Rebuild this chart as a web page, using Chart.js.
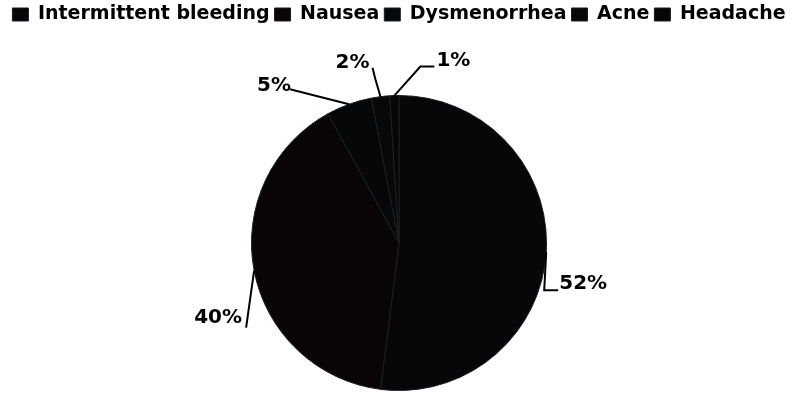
<!DOCTYPE html>
<html>
<head>
<meta charset="utf-8">
<script src="https://cdn.jsdelivr.net/npm/chart.js@4/dist/chart.umd.min.js"></script>
<style>
  html, body { margin: 0; padding: 0; background: #fff; }
  #wrap { width: 792px; height: 396px; }
</style>
</head>
<body>
<div id="wrap"><canvas id="pieChart" width="792" height="396"></canvas></div>
<script>
const categories = ['Intermittent bleeding', 'Nausea', 'Dysmenorrhea', 'Acne', 'Headache'];
const percents = [52, 40, 5, 2, 1];
const sliceColors = ['#07070a', '#090506', '#060708', '#080808', '#060606'];

// leader line shape and label spot, relative to the point on the pie edge
const labelOffsets = [
    { elbow: [-2, 38], tail: 14, text: [37, 32] },
    { elbow: [-8, 57], tail: 0, text: [-36, 47] },
    { elbow: [-59, -15], tail: 0, text: [-75, -18] },
    { elbow: [-5, -17], tail: -3, text: [-28, -34], rise: -12 },
    { elbow: [26, -29], tail: 14, text: [59, -35] }
];

const leaderLabels = {
    id: 'leaderLabels',
    afterDatasetsDraw(chart) {
        const ctx = chart.ctx;
        const meta = chart.getDatasetMeta(0);
        ctx.save();
        ctx.strokeStyle = '#000';
        ctx.lineWidth = 2;
        ctx.fillStyle = '#000';
        ctx.font = 'bold 20px "DejaVu Sans", sans-serif';
        ctx.textBaseline = 'middle';
        ctx.textAlign = 'center';
        meta.data.forEach((arc, i) => {
            const p = arc.getProps(['x', 'y', 'startAngle', 'endAngle', 'outerRadius'], true);
            const mid = (p.startAngle + p.endAngle) / 2;
            const ex = p.x + Math.cos(mid) * p.outerRadius;
            const ey = p.y + Math.sin(mid) * p.outerRadius;
            const off = labelOffsets[i];
            const bx = ex + off.elbow[0];
            const by = ey + off.elbow[1];
            ctx.beginPath();
            ctx.moveTo(ex, ey);
            ctx.lineTo(bx, by);
            ctx.lineTo(bx + off.tail, by + (off.rise || 0));
            ctx.stroke();
            ctx.fillText(percents[i] + '%', ex + off.text[0], ey + off.text[1]);
        });
        ctx.restore();
    }
};

// leave room under the legend, like the original
const legendRoom = {
    id: 'legendRoom',
    beforeInit(chart) {
        const origFit = chart.legend.fit;
        chart.legend.fit = function() {
            origFit.bind(chart.legend)();
            this.height = 95;
        };
    }
};

const ctx = document.getElementById('pieChart').getContext('2d');
new Chart(ctx, {
    type: 'pie',
    data: {
        labels: categories,
        datasets: [{
            data: percents,
            backgroundColor: sliceColors,
            borderColor: '#1e1e1e',
            borderWidth: 1
        }]
    },
    options: {
        responsive: false,
        animation: false,
        layout: { padding: { top: 0, bottom: 5, left: 6, right: 0 } },
        plugins: {
            legend: {
                position: 'top',
                labels: {
                    boxWidth: 16,
                    boxHeight: 13,
                    padding: 5,
                    color: '#000',
                    font: { family: '"DejaVu Sans", sans-serif', size: 19, weight: 'bold' }
                }
            },
            tooltip: { enabled: false }
        }
    },
    plugins: [legendRoom, leaderLabels]
});
</script>
</body>
</html>
